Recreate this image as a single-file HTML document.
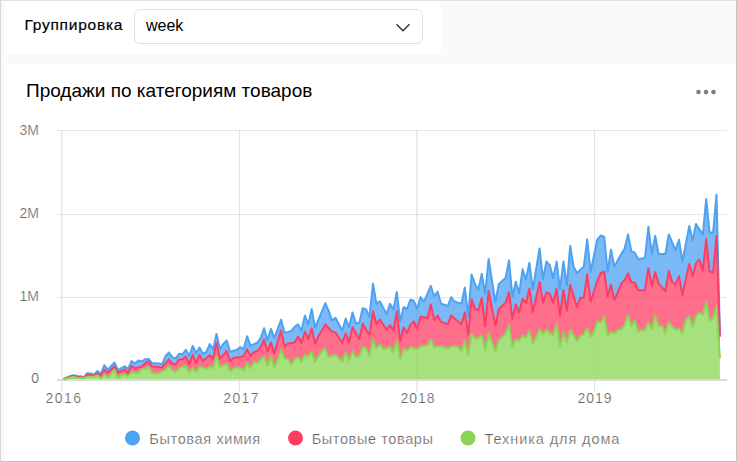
<!DOCTYPE html>
<html><head><meta charset="utf-8">
<style>
html,body{margin:0;padding:0}
body{width:737px;height:462px;position:relative;overflow:hidden;background:#fafafa;font-family:"Liberation Sans",sans-serif}
.frame{position:absolute;left:0;top:0;width:735px;height:460px;border-top:1px solid #e2e2e2;border-left:1px solid #d6d6d6;border-right:1px solid #c4c4c4;border-bottom:1px solid #c4c4c4}
.hdr{position:absolute;left:5px;top:1px;width:436px;height:53px;background:#fff;border-radius:0 0 4px 4px}
.lbl{position:absolute;left:24.5px;top:16.2px;font-size:15.5px;font-weight:400;line-height:18px;color:#000;white-space:nowrap;letter-spacing:0.75px;-webkit-text-stroke:0.2px #000}
.sel{position:absolute;left:134px;top:9px;width:287px;height:33px;border:1px solid #e0e0e0;border-radius:6px;background:#fff}
.selt{position:absolute;left:146px;top:17px;font-size:16px;line-height:18px;color:#000;white-space:nowrap}
.card{position:absolute;left:5px;top:64px;width:731px;height:397px;background:#fff;border-radius:3px 0 0 0}
.title{position:absolute;left:26px;top:79.6px;font-size:19px;line-height:22px;color:#000;white-space:nowrap}
svg{position:absolute;left:0;top:0}
.ax{font-family:"Liberation Sans",sans-serif;font-size:14px;fill:#666;stroke:#fff;stroke-width:0.22px}
.axx{letter-spacing:1px}
.lg{font-family:"Liberation Sans",sans-serif;font-size:14.5px;fill:#666;stroke:#fff;stroke-width:0.22px}
</style></head><body>
<div class="frame"></div>
<div class="hdr"></div>
<div class="lbl">Группировка</div>
<div class="sel"></div>
<div class="selt">week</div>
<svg width="737" height="462" style="z-index:1"><path d="M396.5,24.3 L403,30.8 L409.5,24.3" fill="none" stroke="#333" stroke-width="1.4"/></svg>
<div class="card"></div>
<div class="title">Продажи по категориям товаров</div>
<svg width="737" height="462" viewBox="0 0 737 462">
<g fill="#7f7f7f"><circle cx="698.5" cy="92.1" r="2.3"/><circle cx="706" cy="92.1" r="2.3"/><circle cx="713.5" cy="92.1" r="2.3"/></g>
<g stroke="#000" stroke-opacity="0.09" stroke-width="1" shape-rendering="crispEdges">
<path d="M57,130.5H727M57,214.5H727M57,297.5H727"/>
</g>
<g stroke="#000" stroke-width="1"><path d="M61.92,130V392" stroke-opacity="0.15"/><path d="M239.4,130V392" stroke-opacity="0.12"/><path d="M417,130V392" stroke-opacity="0.15"/><path d="M594.7,130V392" stroke-opacity="0.13"/></g>
<rect x="57" y="379" width="670" height="2" fill="#dadada"/>
<path d="M63.5,379.0 L66.9,378.4 L70.3,377.6 L73.7,376.7 L77.1,377.7 L80.5,377.9 L83.9,378.2 L87.3,376.7 L90.7,376.7 L94.1,376.7 L97.5,375.3 L100.9,378.4 L104.3,374.2 L107.7,378.0 L111.1,373.7 L114.5,369.4 L117.9,378.0 L121.3,374.6 L124.7,374.2 L128.1,376.3 L131.5,372.0 L134.9,372.8 L138.3,373.2 L141.7,369.3 L145.1,368.8 L148.5,367.0 L151.9,372.8 L155.3,373.4 L158.7,373.4 L162.1,371.7 L165.5,369.9 L168.9,365.9 L172.3,370.5 L175.7,372.2 L179.1,368.2 L182.5,367.0 L185.9,366.5 L189.3,372.2 L192.7,367.6 L196.1,372.2 L199.5,366.2 L202.9,367.6 L206.3,369.2 L209.7,366.9 L213.1,367.4 L216.5,356.4 L219.9,367.4 L223.3,365.4 L226.7,363.6 L230.1,371.4 L233.5,368.4 L236.9,367.2 L240.3,368.0 L243.7,370.1 L247.1,362.8 L250.5,368.2 L253.9,361.8 L257.3,363.2 L260.7,359.5 L264.1,356.5 L267.5,365.6 L270.9,355.9 L274.3,366.9 L277.7,359.5 L281.1,349.8 L284.5,358.3 L287.9,358.9 L291.3,365.0 L294.7,358.7 L298.1,357.1 L301.5,361.7 L304.9,355.0 L308.3,356.3 L311.7,351.7 L315.1,361.7 L318.5,356.3 L321.9,350.8 L325.3,348.6 L328.7,357.5 L332.1,355.6 L335.5,355.0 L338.9,358.1 L342.3,361.7 L345.7,352.6 L349.1,360.5 L352.5,351.4 L355.9,356.9 L359.3,356.3 L362.7,346.5 L366.1,348.9 L369.5,355.6 L373.0,339.2 L376.4,348.3 L379.8,344.4 L383.2,349.0 L386.6,348.5 L390.0,346.9 L393.4,352.4 L396.8,340.1 L400.2,359.1 L403.6,348.7 L407.0,350.5 L410.4,346.9 L413.8,348.1 L417.2,349.3 L420.6,346.3 L424.0,345.8 L427.4,345.6 L430.8,339.5 L434.2,346.9 L437.6,346.6 L441.0,346.3 L444.4,347.5 L447.8,348.7 L451.2,346.3 L454.6,345.9 L458.0,346.9 L461.4,351.0 L464.8,340.8 L468.2,354.8 L471.6,334.0 L475.0,338.3 L478.4,338.0 L481.8,335.2 L485.2,350.3 L488.6,332.9 L492.0,342.4 L495.4,352.0 L498.8,340.0 L502.2,336.9 L505.6,333.9 L509.0,325.2 L512.4,346.8 L515.8,339.2 L519.2,340.8 L522.6,335.5 L526.0,337.3 L529.4,330.9 L532.8,343.8 L536.2,337.0 L539.6,329.4 L543.0,333.9 L546.4,329.8 L549.8,333.0 L553.2,335.4 L556.6,323.8 L560.0,345.8 L563.4,332.4 L566.8,342.1 L570.2,329.9 L573.6,335.4 L577.0,340.9 L580.4,335.4 L583.8,334.8 L587.2,328.1 L590.6,336.6 L594.0,331.7 L597.4,321.4 L600.8,322.6 L604.2,316.5 L607.6,335.4 L611.0,331.7 L614.4,333.6 L617.8,329.9 L621.2,329.3 L624.6,325.0 L628.0,314.7 L631.4,326.3 L634.8,320.8 L638.2,331.5 L641.6,329.7 L645.0,330.3 L648.4,322.4 L651.8,329.7 L655.2,315.6 L658.6,326.0 L662.0,326.0 L665.4,333.3 L668.8,322.4 L672.2,326.6 L675.6,329.7 L679.0,328.5 L682.4,333.3 L685.8,319.9 L689.2,316.3 L692.6,326.6 L696.0,315.6 L699.4,312.6 L702.8,315.0 L706.2,301.6 L709.6,320.5 L713.1,318.1 L716.5,306.5 L719.9,358.2 L719.9,379.0 L716.5,379.0 L713.1,379.0 L709.6,379.0 L706.2,379.0 L702.8,379.0 L699.4,379.0 L696.0,379.0 L692.6,379.0 L689.2,379.0 L685.8,379.0 L682.4,379.0 L679.0,379.0 L675.6,379.0 L672.2,379.0 L668.8,379.0 L665.4,379.0 L662.0,379.0 L658.6,379.0 L655.2,379.0 L651.8,379.0 L648.4,379.0 L645.0,379.0 L641.6,379.0 L638.2,379.0 L634.8,379.0 L631.4,379.0 L628.0,379.0 L624.6,379.0 L621.2,379.0 L617.8,379.0 L614.4,379.0 L611.0,379.0 L607.6,379.0 L604.2,379.0 L600.8,379.0 L597.4,379.0 L594.0,379.0 L590.6,379.0 L587.2,379.0 L583.8,379.0 L580.4,379.0 L577.0,379.0 L573.6,379.0 L570.2,379.0 L566.8,379.0 L563.4,379.0 L560.0,379.0 L556.6,379.0 L553.2,379.0 L549.8,379.0 L546.4,379.0 L543.0,379.0 L539.6,379.0 L536.2,379.0 L532.8,379.0 L529.4,379.0 L526.0,379.0 L522.6,379.0 L519.2,379.0 L515.8,379.0 L512.4,379.0 L509.0,379.0 L505.6,379.0 L502.2,379.0 L498.8,379.0 L495.4,379.0 L492.0,379.0 L488.6,379.0 L485.2,379.0 L481.8,379.0 L478.4,379.0 L475.0,379.0 L471.6,379.0 L468.2,379.0 L464.8,379.0 L461.4,379.0 L458.0,379.0 L454.6,379.0 L451.2,379.0 L447.8,379.0 L444.4,379.0 L441.0,379.0 L437.6,379.0 L434.2,379.0 L430.8,379.0 L427.4,379.0 L424.0,379.0 L420.6,379.0 L417.2,379.0 L413.8,379.0 L410.4,379.0 L407.0,379.0 L403.6,379.0 L400.2,379.0 L396.8,379.0 L393.4,379.0 L390.0,379.0 L386.6,379.0 L383.2,379.0 L379.8,379.0 L376.4,379.0 L373.0,379.0 L369.5,379.0 L366.1,379.0 L362.7,379.0 L359.3,379.0 L355.9,379.0 L352.5,379.0 L349.1,379.0 L345.7,379.0 L342.3,379.0 L338.9,379.0 L335.5,379.0 L332.1,379.0 L328.7,379.0 L325.3,379.0 L321.9,379.0 L318.5,379.0 L315.1,379.0 L311.7,379.0 L308.3,379.0 L304.9,379.0 L301.5,379.0 L298.1,379.0 L294.7,379.0 L291.3,379.0 L287.9,379.0 L284.5,379.0 L281.1,379.0 L277.7,379.0 L274.3,379.0 L270.9,379.0 L267.5,379.0 L264.1,379.0 L260.7,379.0 L257.3,379.0 L253.9,379.0 L250.5,379.0 L247.1,379.0 L243.7,379.0 L240.3,379.0 L236.9,379.0 L233.5,379.0 L230.1,379.0 L226.7,379.0 L223.3,379.0 L219.9,379.0 L216.5,379.0 L213.1,379.0 L209.7,379.0 L206.3,379.0 L202.9,379.0 L199.5,379.0 L196.1,379.0 L192.7,379.0 L189.3,379.0 L185.9,379.0 L182.5,379.0 L179.1,379.0 L175.7,379.0 L172.3,379.0 L168.9,379.0 L165.5,379.0 L162.1,379.0 L158.7,379.0 L155.3,379.0 L151.9,379.0 L148.5,379.0 L145.1,379.0 L141.7,379.0 L138.3,379.0 L134.9,379.0 L131.5,379.0 L128.1,379.0 L124.7,379.0 L121.3,379.0 L117.9,379.0 L114.5,379.0 L111.1,379.0 L107.7,379.0 L104.3,379.0 L100.9,379.0 L97.5,379.0 L94.1,379.0 L90.7,379.0 L87.3,379.0 L83.9,379.0 L80.5,379.0 L77.1,379.0 L73.7,379.0 L70.3,379.0 L66.9,379.0 L63.5,379.0Z" fill="#8AD554" fill-opacity="0.75"/>
<path d="M63.5,379.0 L66.9,378.0 L70.3,377.0 L73.7,375.9 L77.1,376.7 L80.5,377.3 L83.9,377.9 L87.3,374.4 L90.7,375.1 L94.1,375.9 L97.5,373.2 L100.9,376.0 L104.3,369.7 L107.7,372.8 L111.1,369.6 L114.5,366.3 L117.9,372.8 L121.3,371.1 L124.7,369.4 L128.1,373.5 L131.5,365.9 L134.9,368.3 L138.3,367.4 L141.7,366.6 L145.1,363.4 L148.5,361.2 L151.9,366.6 L155.3,366.8 L158.7,367.1 L162.1,367.5 L165.5,363.4 L168.9,359.3 L172.3,363.9 L175.7,364.5 L179.1,359.4 L182.5,359.4 L185.9,356.6 L189.3,364.5 L192.7,354.9 L196.1,363.3 L199.5,354.9 L202.9,361.1 L206.3,358.2 L209.7,355.3 L213.1,358.8 L216.5,342.9 L219.9,358.8 L223.3,354.8 L226.7,350.8 L230.1,361.1 L233.5,358.0 L236.9,357.2 L240.3,357.3 L243.7,356.1 L247.1,349.4 L250.5,356.0 L253.9,352.3 L257.3,351.0 L260.7,347.3 L264.1,339.5 L267.5,351.6 L270.9,342.4 L274.3,353.4 L277.7,341.9 L281.1,330.5 L284.5,346.1 L287.9,343.7 L291.3,343.0 L294.7,342.4 L298.1,336.5 L301.5,343.0 L304.9,331.7 L308.3,339.0 L311.7,328.4 L315.1,343.8 L318.5,336.1 L321.9,330.8 L325.3,324.4 L328.7,328.0 L332.1,331.6 L335.5,332.4 L338.9,337.6 L342.3,342.8 L345.7,333.3 L349.1,342.0 L352.5,327.2 L355.9,333.2 L359.3,339.2 L362.7,323.8 L366.1,329.8 L369.5,335.2 L373.0,311.3 L376.4,324.2 L379.8,319.6 L383.2,324.6 L386.6,329.7 L390.0,325.1 L393.4,330.6 L396.8,311.3 L400.2,341.6 L403.6,327.4 L407.0,333.0 L410.4,324.9 L413.8,321.2 L417.2,328.4 L420.6,316.4 L424.0,317.3 L427.4,318.2 L430.8,304.4 L434.2,320.1 L437.6,315.5 L441.0,321.9 L444.4,323.1 L447.8,324.3 L451.2,315.6 L454.6,318.5 L458.0,321.4 L461.4,324.3 L464.8,312.4 L468.2,334.7 L471.6,299.4 L475.0,309.4 L478.4,310.0 L481.8,298.4 L485.2,326.3 L488.6,291.2 L492.0,308.4 L495.4,325.5 L498.8,309.0 L502.2,306.1 L505.6,303.1 L509.0,292.4 L512.4,319.0 L515.8,304.3 L519.2,312.5 L522.6,299.0 L526.0,302.9 L529.4,288.6 L532.8,312.0 L536.2,297.1 L539.6,282.1 L543.0,302.9 L546.4,292.5 L549.8,293.8 L553.2,302.9 L556.6,288.6 L560.0,316.0 L563.4,289.9 L566.8,310.7 L570.2,284.7 L573.6,296.0 L577.0,307.3 L580.4,297.7 L583.8,297.7 L587.2,274.4 L590.6,301.6 L594.0,291.2 L597.4,280.8 L600.8,273.0 L604.2,271.8 L607.6,296.4 L611.0,284.7 L614.4,300.3 L617.8,292.1 L621.2,283.8 L624.6,279.9 L628.0,273.4 L631.4,282.5 L634.8,282.5 L638.2,290.3 L641.6,290.3 L645.0,290.3 L648.4,268.2 L651.8,286.0 L655.2,272.1 L658.6,283.8 L662.0,287.4 L665.4,291.2 L668.8,270.8 L672.2,282.1 L675.6,284.4 L679.0,276.1 L682.4,295.0 L685.8,279.1 L689.2,264.0 L692.6,276.5 L696.0,262.9 L699.4,259.7 L702.8,270.5 L706.2,239.1 L709.6,271.6 L713.1,272.7 L716.5,235.9 L719.9,336.8 L719.9,358.2 L716.5,306.5 L713.1,318.1 L709.6,320.5 L706.2,301.6 L702.8,315.0 L699.4,312.6 L696.0,315.6 L692.6,326.6 L689.2,316.3 L685.8,319.9 L682.4,333.3 L679.0,328.5 L675.6,329.7 L672.2,326.6 L668.8,322.4 L665.4,333.3 L662.0,326.0 L658.6,326.0 L655.2,315.6 L651.8,329.7 L648.4,322.4 L645.0,330.3 L641.6,329.7 L638.2,331.5 L634.8,320.8 L631.4,326.3 L628.0,314.7 L624.6,325.0 L621.2,329.3 L617.8,329.9 L614.4,333.6 L611.0,331.7 L607.6,335.4 L604.2,316.5 L600.8,322.6 L597.4,321.4 L594.0,331.7 L590.6,336.6 L587.2,328.1 L583.8,334.8 L580.4,335.4 L577.0,340.9 L573.6,335.4 L570.2,329.9 L566.8,342.1 L563.4,332.4 L560.0,345.8 L556.6,323.8 L553.2,335.4 L549.8,333.0 L546.4,329.8 L543.0,333.9 L539.6,329.4 L536.2,337.0 L532.8,343.8 L529.4,330.9 L526.0,337.3 L522.6,335.5 L519.2,340.8 L515.8,339.2 L512.4,346.8 L509.0,325.2 L505.6,333.9 L502.2,336.9 L498.8,340.0 L495.4,352.0 L492.0,342.4 L488.6,332.9 L485.2,350.3 L481.8,335.2 L478.4,338.0 L475.0,338.3 L471.6,334.0 L468.2,354.8 L464.8,340.8 L461.4,351.0 L458.0,346.9 L454.6,345.9 L451.2,346.3 L447.8,348.7 L444.4,347.5 L441.0,346.3 L437.6,346.6 L434.2,346.9 L430.8,339.5 L427.4,345.6 L424.0,345.8 L420.6,346.3 L417.2,349.3 L413.8,348.1 L410.4,346.9 L407.0,350.5 L403.6,348.7 L400.2,359.1 L396.8,340.1 L393.4,352.4 L390.0,346.9 L386.6,348.5 L383.2,349.0 L379.8,344.4 L376.4,348.3 L373.0,339.2 L369.5,355.6 L366.1,348.9 L362.7,346.5 L359.3,356.3 L355.9,356.9 L352.5,351.4 L349.1,360.5 L345.7,352.6 L342.3,361.7 L338.9,358.1 L335.5,355.0 L332.1,355.6 L328.7,357.5 L325.3,348.6 L321.9,350.8 L318.5,356.3 L315.1,361.7 L311.7,351.7 L308.3,356.3 L304.9,355.0 L301.5,361.7 L298.1,357.1 L294.7,358.7 L291.3,365.0 L287.9,358.9 L284.5,358.3 L281.1,349.8 L277.7,359.5 L274.3,366.9 L270.9,355.9 L267.5,365.6 L264.1,356.5 L260.7,359.5 L257.3,363.2 L253.9,361.8 L250.5,368.2 L247.1,362.8 L243.7,370.1 L240.3,368.0 L236.9,367.2 L233.5,368.4 L230.1,371.4 L226.7,363.6 L223.3,365.4 L219.9,367.4 L216.5,356.4 L213.1,367.4 L209.7,366.9 L206.3,369.2 L202.9,367.6 L199.5,366.2 L196.1,372.2 L192.7,367.6 L189.3,372.2 L185.9,366.5 L182.5,367.0 L179.1,368.2 L175.7,372.2 L172.3,370.5 L168.9,365.9 L165.5,369.9 L162.1,371.7 L158.7,373.4 L155.3,373.4 L151.9,372.8 L148.5,367.0 L145.1,368.8 L141.7,369.3 L138.3,373.2 L134.9,372.8 L131.5,372.0 L128.1,376.3 L124.7,374.2 L121.3,374.6 L117.9,378.0 L114.5,369.4 L111.1,373.7 L107.7,378.0 L104.3,374.2 L100.9,378.4 L97.5,375.3 L94.1,376.7 L90.7,376.7 L87.3,376.7 L83.9,378.2 L80.5,377.9 L77.1,377.7 L73.7,376.7 L70.3,377.6 L66.9,378.4 L63.5,379.0Z" fill="#FF3D64" fill-opacity="0.75"/>
<path d="M63.5,379.0 L66.9,377.5 L70.3,375.9 L73.7,375.3 L77.1,375.9 L80.5,376.2 L83.9,377.2 L87.3,373.2 L90.7,373.5 L94.1,374.7 L97.5,371.0 L100.9,373.9 L104.3,365.2 L107.7,369.7 L111.1,366.1 L114.5,362.5 L117.9,370.1 L121.3,368.2 L124.7,366.3 L128.1,369.0 L131.5,361.1 L134.9,363.5 L138.3,360.5 L141.7,361.4 L145.1,359.3 L148.5,358.9 L151.9,363.0 L155.3,363.2 L158.7,363.4 L162.1,364.3 L165.5,356.2 L168.9,352.5 L172.3,357.1 L175.7,358.6 L179.1,353.7 L182.5,354.3 L185.9,349.8 L189.3,356.0 L192.7,345.9 L196.1,353.1 L199.5,347.6 L202.9,353.7 L206.3,352.0 L209.7,344.1 L213.1,349.1 L216.5,333.9 L219.9,348.8 L223.3,343.9 L226.7,340.5 L230.1,351.8 L233.5,350.8 L236.9,349.8 L240.3,347.0 L243.7,349.1 L247.1,336.3 L250.5,345.7 L253.9,344.2 L257.3,342.6 L260.7,338.0 L264.1,328.2 L267.5,340.3 L270.9,328.9 L274.3,338.0 L277.7,328.9 L281.1,319.8 L284.5,332.7 L287.9,331.9 L291.3,331.0 L294.7,326.8 L298.1,324.4 L301.5,330.8 L304.9,315.4 L308.3,324.4 L311.7,308.9 L315.1,327.6 L318.5,319.5 L321.9,311.4 L325.3,303.2 L328.7,310.8 L332.1,320.3 L335.5,317.7 L338.9,324.2 L342.3,330.7 L345.7,318.6 L349.1,327.2 L352.5,312.5 L355.9,323.4 L359.3,322.7 L362.7,308.2 L366.1,309.4 L369.5,316.8 L373.0,283.7 L376.4,303.9 L379.8,301.2 L383.2,307.6 L386.6,314.0 L390.0,303.9 L393.4,309.4 L396.8,292.0 L400.2,321.4 L403.6,307.2 L407.0,309.0 L410.4,299.8 L413.8,300.8 L417.2,309.0 L420.6,297.1 L424.0,301.7 L427.4,293.9 L430.8,286.0 L434.2,296.2 L437.6,291.6 L441.0,303.7 L444.4,304.8 L447.8,305.9 L451.2,297.2 L454.6,301.5 L458.0,302.6 L461.4,303.7 L464.8,287.5 L468.2,316.0 L471.6,274.5 L475.0,284.2 L478.4,289.4 L481.8,273.8 L485.2,294.0 L488.6,259.0 L492.0,280.5 L495.4,302.0 L498.8,284.0 L502.2,281.1 L505.6,278.1 L509.0,260.2 L512.4,297.0 L515.8,281.7 L519.2,293.5 L522.6,269.2 L526.0,279.5 L529.4,262.7 L532.8,289.3 L536.2,268.9 L539.6,248.4 L543.0,279.5 L546.4,261.4 L549.8,265.3 L553.2,278.2 L556.6,261.4 L560.0,289.4 L563.4,261.4 L566.8,286.0 L570.2,245.8 L573.6,266.6 L577.0,273.0 L580.4,269.8 L583.8,266.6 L587.2,239.3 L590.6,271.8 L594.0,255.6 L597.4,239.3 L600.8,235.4 L604.2,236.7 L607.6,271.8 L611.0,249.7 L614.4,266.6 L617.8,260.3 L621.2,254.0 L624.6,248.8 L628.0,234.5 L631.4,251.4 L634.8,252.7 L638.2,259.2 L641.6,258.5 L645.0,257.9 L648.4,226.7 L651.8,254.0 L655.2,235.8 L658.6,254.0 L662.0,254.0 L665.4,254.0 L668.8,234.5 L672.2,242.3 L675.6,250.1 L679.0,239.7 L682.4,261.8 L685.8,243.9 L689.2,226.1 L692.6,240.2 L696.0,224.0 L699.4,229.4 L702.8,234.8 L706.2,199.1 L709.6,232.6 L713.1,232.6 L716.5,194.7 L719.9,335.0 L719.9,336.8 L716.5,235.9 L713.1,272.7 L709.6,271.6 L706.2,239.1 L702.8,270.5 L699.4,259.7 L696.0,262.9 L692.6,276.5 L689.2,264.0 L685.8,279.1 L682.4,295.0 L679.0,276.1 L675.6,284.4 L672.2,282.1 L668.8,270.8 L665.4,291.2 L662.0,287.4 L658.6,283.8 L655.2,272.1 L651.8,286.0 L648.4,268.2 L645.0,290.3 L641.6,290.3 L638.2,290.3 L634.8,282.5 L631.4,282.5 L628.0,273.4 L624.6,279.9 L621.2,283.8 L617.8,292.1 L614.4,300.3 L611.0,284.7 L607.6,296.4 L604.2,271.8 L600.8,273.0 L597.4,280.8 L594.0,291.2 L590.6,301.6 L587.2,274.4 L583.8,297.7 L580.4,297.7 L577.0,307.3 L573.6,296.0 L570.2,284.7 L566.8,310.7 L563.4,289.9 L560.0,316.0 L556.6,288.6 L553.2,302.9 L549.8,293.8 L546.4,292.5 L543.0,302.9 L539.6,282.1 L536.2,297.1 L532.8,312.0 L529.4,288.6 L526.0,302.9 L522.6,299.0 L519.2,312.5 L515.8,304.3 L512.4,319.0 L509.0,292.4 L505.6,303.1 L502.2,306.1 L498.8,309.0 L495.4,325.5 L492.0,308.4 L488.6,291.2 L485.2,326.3 L481.8,298.4 L478.4,310.0 L475.0,309.4 L471.6,299.4 L468.2,334.7 L464.8,312.4 L461.4,324.3 L458.0,321.4 L454.6,318.5 L451.2,315.6 L447.8,324.3 L444.4,323.1 L441.0,321.9 L437.6,315.5 L434.2,320.1 L430.8,304.4 L427.4,318.2 L424.0,317.3 L420.6,316.4 L417.2,328.4 L413.8,321.2 L410.4,324.9 L407.0,333.0 L403.6,327.4 L400.2,341.6 L396.8,311.3 L393.4,330.6 L390.0,325.1 L386.6,329.7 L383.2,324.6 L379.8,319.6 L376.4,324.2 L373.0,311.3 L369.5,335.2 L366.1,329.8 L362.7,323.8 L359.3,339.2 L355.9,333.2 L352.5,327.2 L349.1,342.0 L345.7,333.3 L342.3,342.8 L338.9,337.6 L335.5,332.4 L332.1,331.6 L328.7,328.0 L325.3,324.4 L321.9,330.8 L318.5,336.1 L315.1,343.8 L311.7,328.4 L308.3,339.0 L304.9,331.7 L301.5,343.0 L298.1,336.5 L294.7,342.4 L291.3,343.0 L287.9,343.7 L284.5,346.1 L281.1,330.5 L277.7,341.9 L274.3,353.4 L270.9,342.4 L267.5,351.6 L264.1,339.5 L260.7,347.3 L257.3,351.0 L253.9,352.3 L250.5,356.0 L247.1,349.4 L243.7,356.1 L240.3,357.3 L236.9,357.2 L233.5,358.0 L230.1,361.1 L226.7,350.8 L223.3,354.8 L219.9,358.8 L216.5,342.9 L213.1,358.8 L209.7,355.3 L206.3,358.2 L202.9,361.1 L199.5,354.9 L196.1,363.3 L192.7,354.9 L189.3,364.5 L185.9,356.6 L182.5,359.4 L179.1,359.4 L175.7,364.5 L172.3,363.9 L168.9,359.3 L165.5,363.4 L162.1,367.5 L158.7,367.1 L155.3,366.8 L151.9,366.6 L148.5,361.2 L145.1,363.4 L141.7,366.6 L138.3,367.4 L134.9,368.3 L131.5,365.9 L128.1,373.5 L124.7,369.4 L121.3,371.1 L117.9,372.8 L114.5,366.3 L111.1,369.6 L107.7,372.8 L104.3,369.7 L100.9,376.0 L97.5,373.2 L94.1,375.9 L90.7,375.1 L87.3,374.4 L83.9,377.9 L80.5,377.3 L77.1,376.7 L73.7,375.9 L70.3,377.0 L66.9,378.0 L63.5,379.0Z" fill="#4DA2F1" fill-opacity="0.75"/>
<polyline points="63.5,379.0 66.9,377.5 70.3,375.9 73.7,375.3 77.1,375.9 80.5,376.2 83.9,377.2 87.3,373.2 90.7,373.5 94.1,374.7 97.5,371.0 100.9,373.9 104.3,365.2 107.7,369.7 111.1,366.1 114.5,362.5 117.9,370.1 121.3,368.2 124.7,366.3 128.1,369.0 131.5,361.1 134.9,363.5 138.3,360.5 141.7,361.4 145.1,359.3 148.5,358.9 151.9,363.0 155.3,363.2 158.7,363.4 162.1,364.3 165.5,356.2 168.9,352.5 172.3,357.1 175.7,358.6 179.1,353.7 182.5,354.3 185.9,349.8 189.3,356.0 192.7,345.9 196.1,353.1 199.5,347.6 202.9,353.7 206.3,352.0 209.7,344.1 213.1,349.1 216.5,333.9 219.9,348.8 223.3,343.9 226.7,340.5 230.1,351.8 233.5,350.8 236.9,349.8 240.3,347.0 243.7,349.1 247.1,336.3 250.5,345.7 253.9,344.2 257.3,342.6 260.7,338.0 264.1,328.2 267.5,340.3 270.9,328.9 274.3,338.0 277.7,328.9 281.1,319.8 284.5,332.7 287.9,331.9 291.3,331.0 294.7,326.8 298.1,324.4 301.5,330.8 304.9,315.4 308.3,324.4 311.7,308.9 315.1,327.6 318.5,319.5 321.9,311.4 325.3,303.2 328.7,310.8 332.1,320.3 335.5,317.7 338.9,324.2 342.3,330.7 345.7,318.6 349.1,327.2 352.5,312.5 355.9,323.4 359.3,322.7 362.7,308.2 366.1,309.4 369.5,316.8 373.0,283.7 376.4,303.9 379.8,301.2 383.2,307.6 386.6,314.0 390.0,303.9 393.4,309.4 396.8,292.0 400.2,321.4 403.6,307.2 407.0,309.0 410.4,299.8 413.8,300.8 417.2,309.0 420.6,297.1 424.0,301.7 427.4,293.9 430.8,286.0 434.2,296.2 437.6,291.6 441.0,303.7 444.4,304.8 447.8,305.9 451.2,297.2 454.6,301.5 458.0,302.6 461.4,303.7 464.8,287.5 468.2,316.0 471.6,274.5 475.0,284.2 478.4,289.4 481.8,273.8 485.2,294.0 488.6,259.0 492.0,280.5 495.4,302.0 498.8,284.0 502.2,281.1 505.6,278.1 509.0,260.2 512.4,297.0 515.8,281.7 519.2,293.5 522.6,269.2 526.0,279.5 529.4,262.7 532.8,289.3 536.2,268.9 539.6,248.4 543.0,279.5 546.4,261.4 549.8,265.3 553.2,278.2 556.6,261.4 560.0,289.4 563.4,261.4 566.8,286.0 570.2,245.8 573.6,266.6 577.0,273.0 580.4,269.8 583.8,266.6 587.2,239.3 590.6,271.8 594.0,255.6 597.4,239.3 600.8,235.4 604.2,236.7 607.6,271.8 611.0,249.7 614.4,266.6 617.8,260.3 621.2,254.0 624.6,248.8 628.0,234.5 631.4,251.4 634.8,252.7 638.2,259.2 641.6,258.5 645.0,257.9 648.4,226.7 651.8,254.0 655.2,235.8 658.6,254.0 662.0,254.0 665.4,254.0 668.8,234.5 672.2,242.3 675.6,250.1 679.0,239.7 682.4,261.8 685.8,243.9 689.2,226.1 692.6,240.2 696.0,224.0 699.4,229.4 702.8,234.8 706.2,199.1 709.6,232.6 713.1,232.6 716.5,194.7 719.9,335.0" fill="none" stroke="#4DA2F1" stroke-width="2" stroke-linejoin="round"/>
<polyline points="63.5,379.0 66.9,378.0 70.3,377.0 73.7,375.9 77.1,376.7 80.5,377.3 83.9,377.9 87.3,374.4 90.7,375.1 94.1,375.9 97.5,373.2 100.9,376.0 104.3,369.7 107.7,372.8 111.1,369.6 114.5,366.3 117.9,372.8 121.3,371.1 124.7,369.4 128.1,373.5 131.5,365.9 134.9,368.3 138.3,367.4 141.7,366.6 145.1,363.4 148.5,361.2 151.9,366.6 155.3,366.8 158.7,367.1 162.1,367.5 165.5,363.4 168.9,359.3 172.3,363.9 175.7,364.5 179.1,359.4 182.5,359.4 185.9,356.6 189.3,364.5 192.7,354.9 196.1,363.3 199.5,354.9 202.9,361.1 206.3,358.2 209.7,355.3 213.1,358.8 216.5,342.9 219.9,358.8 223.3,354.8 226.7,350.8 230.1,361.1 233.5,358.0 236.9,357.2 240.3,357.3 243.7,356.1 247.1,349.4 250.5,356.0 253.9,352.3 257.3,351.0 260.7,347.3 264.1,339.5 267.5,351.6 270.9,342.4 274.3,353.4 277.7,341.9 281.1,330.5 284.5,346.1 287.9,343.7 291.3,343.0 294.7,342.4 298.1,336.5 301.5,343.0 304.9,331.7 308.3,339.0 311.7,328.4 315.1,343.8 318.5,336.1 321.9,330.8 325.3,324.4 328.7,328.0 332.1,331.6 335.5,332.4 338.9,337.6 342.3,342.8 345.7,333.3 349.1,342.0 352.5,327.2 355.9,333.2 359.3,339.2 362.7,323.8 366.1,329.8 369.5,335.2 373.0,311.3 376.4,324.2 379.8,319.6 383.2,324.6 386.6,329.7 390.0,325.1 393.4,330.6 396.8,311.3 400.2,341.6 403.6,327.4 407.0,333.0 410.4,324.9 413.8,321.2 417.2,328.4 420.6,316.4 424.0,317.3 427.4,318.2 430.8,304.4 434.2,320.1 437.6,315.5 441.0,321.9 444.4,323.1 447.8,324.3 451.2,315.6 454.6,318.5 458.0,321.4 461.4,324.3 464.8,312.4 468.2,334.7 471.6,299.4 475.0,309.4 478.4,310.0 481.8,298.4 485.2,326.3 488.6,291.2 492.0,308.4 495.4,325.5 498.8,309.0 502.2,306.1 505.6,303.1 509.0,292.4 512.4,319.0 515.8,304.3 519.2,312.5 522.6,299.0 526.0,302.9 529.4,288.6 532.8,312.0 536.2,297.1 539.6,282.1 543.0,302.9 546.4,292.5 549.8,293.8 553.2,302.9 556.6,288.6 560.0,316.0 563.4,289.9 566.8,310.7 570.2,284.7 573.6,296.0 577.0,307.3 580.4,297.7 583.8,297.7 587.2,274.4 590.6,301.6 594.0,291.2 597.4,280.8 600.8,273.0 604.2,271.8 607.6,296.4 611.0,284.7 614.4,300.3 617.8,292.1 621.2,283.8 624.6,279.9 628.0,273.4 631.4,282.5 634.8,282.5 638.2,290.3 641.6,290.3 645.0,290.3 648.4,268.2 651.8,286.0 655.2,272.1 658.6,283.8 662.0,287.4 665.4,291.2 668.8,270.8 672.2,282.1 675.6,284.4 679.0,276.1 682.4,295.0 685.8,279.1 689.2,264.0 692.6,276.5 696.0,262.9 699.4,259.7 702.8,270.5 706.2,239.1 709.6,271.6 713.1,272.7 716.5,235.9 719.9,336.8" fill="none" stroke="#FF3D64" stroke-width="2" stroke-linejoin="round"/>
<polyline points="63.5,379.0 66.9,378.4 70.3,377.6 73.7,376.7 77.1,377.7 80.5,377.9 83.9,378.2 87.3,376.7 90.7,376.7 94.1,376.7 97.5,375.3 100.9,378.4 104.3,374.2 107.7,378.0 111.1,373.7 114.5,369.4 117.9,378.0 121.3,374.6 124.7,374.2 128.1,376.3 131.5,372.0 134.9,372.8 138.3,373.2 141.7,369.3 145.1,368.8 148.5,367.0 151.9,372.8 155.3,373.4 158.7,373.4 162.1,371.7 165.5,369.9 168.9,365.9 172.3,370.5 175.7,372.2 179.1,368.2 182.5,367.0 185.9,366.5 189.3,372.2 192.7,367.6 196.1,372.2 199.5,366.2 202.9,367.6 206.3,369.2 209.7,366.9 213.1,367.4 216.5,356.4 219.9,367.4 223.3,365.4 226.7,363.6 230.1,371.4 233.5,368.4 236.9,367.2 240.3,368.0 243.7,370.1 247.1,362.8 250.5,368.2 253.9,361.8 257.3,363.2 260.7,359.5 264.1,356.5 267.5,365.6 270.9,355.9 274.3,366.9 277.7,359.5 281.1,349.8 284.5,358.3 287.9,358.9 291.3,365.0 294.7,358.7 298.1,357.1 301.5,361.7 304.9,355.0 308.3,356.3 311.7,351.7 315.1,361.7 318.5,356.3 321.9,350.8 325.3,348.6 328.7,357.5 332.1,355.6 335.5,355.0 338.9,358.1 342.3,361.7 345.7,352.6 349.1,360.5 352.5,351.4 355.9,356.9 359.3,356.3 362.7,346.5 366.1,348.9 369.5,355.6 373.0,339.2 376.4,348.3 379.8,344.4 383.2,349.0 386.6,348.5 390.0,346.9 393.4,352.4 396.8,340.1 400.2,359.1 403.6,348.7 407.0,350.5 410.4,346.9 413.8,348.1 417.2,349.3 420.6,346.3 424.0,345.8 427.4,345.6 430.8,339.5 434.2,346.9 437.6,346.6 441.0,346.3 444.4,347.5 447.8,348.7 451.2,346.3 454.6,345.9 458.0,346.9 461.4,351.0 464.8,340.8 468.2,354.8 471.6,334.0 475.0,338.3 478.4,338.0 481.8,335.2 485.2,350.3 488.6,332.9 492.0,342.4 495.4,352.0 498.8,340.0 502.2,336.9 505.6,333.9 509.0,325.2 512.4,346.8 515.8,339.2 519.2,340.8 522.6,335.5 526.0,337.3 529.4,330.9 532.8,343.8 536.2,337.0 539.6,329.4 543.0,333.9 546.4,329.8 549.8,333.0 553.2,335.4 556.6,323.8 560.0,345.8 563.4,332.4 566.8,342.1 570.2,329.9 573.6,335.4 577.0,340.9 580.4,335.4 583.8,334.8 587.2,328.1 590.6,336.6 594.0,331.7 597.4,321.4 600.8,322.6 604.2,316.5 607.6,335.4 611.0,331.7 614.4,333.6 617.8,329.9 621.2,329.3 624.6,325.0 628.0,314.7 631.4,326.3 634.8,320.8 638.2,331.5 641.6,329.7 645.0,330.3 648.4,322.4 651.8,329.7 655.2,315.6 658.6,326.0 662.0,326.0 665.4,333.3 668.8,322.4 672.2,326.6 675.6,329.7 679.0,328.5 682.4,333.3 685.8,319.9 689.2,316.3 692.6,326.6 696.0,315.6 699.4,312.6 702.8,315.0 706.2,301.6 709.6,320.5 713.1,318.1 716.5,306.5 719.9,358.2" fill="none" stroke="#8AD554" stroke-width="2" stroke-linejoin="round"/>
<g class="ax" text-anchor="end">
<text x="39" y="135">3M</text><text x="39" y="217.6">2M</text><text x="39" y="300.8">1M</text><text x="39" y="383.3">0</text>
</g>
<g class="ax axx" text-anchor="middle">
<text x="64" y="403" letter-spacing="1.5">2016</text><text x="241.6" y="403" letter-spacing="1.4">2017</text><text x="418" y="403">2018</text><text x="595" y="403">2019</text>
</g>
<circle cx="132.5" cy="438" r="7.5" fill="#4DA2F1"/>
<circle cx="295.5" cy="438" r="7.5" fill="#FF3D64"/>
<circle cx="468" cy="438" r="7.5" fill="#8AD554"/>
<g class="lg">
<text x="149.3" y="443.6" letter-spacing="0.64">Бытовая химия</text>
<text x="311.7" y="443.6" letter-spacing="0.61">Бытовые товары</text>
<text x="484.5" y="443.6" letter-spacing="0.91">Техника для дома</text>
</g>
</svg>
</body></html>
